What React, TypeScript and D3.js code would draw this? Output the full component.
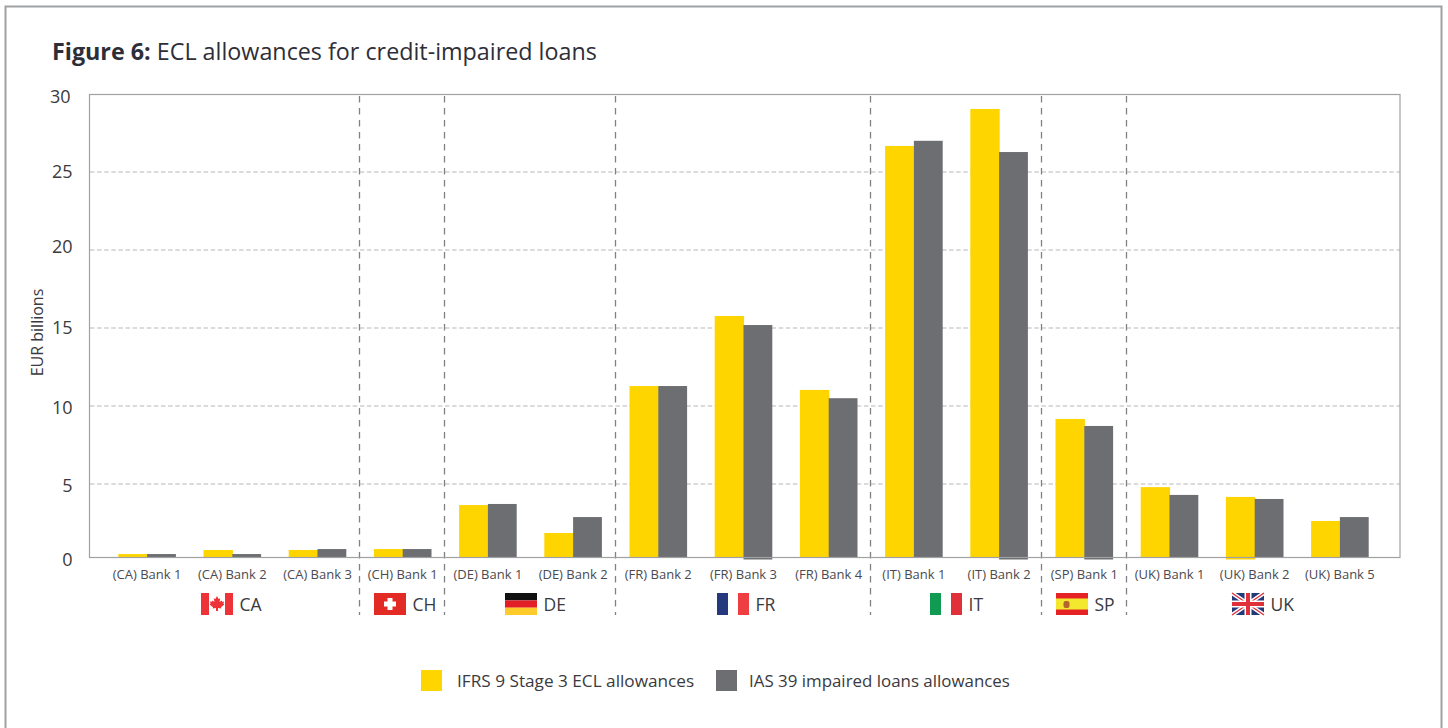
import React from "react";
import * as d3 from "d3";

const banks = ["(CA) Bank 1","(CA) Bank 2","(CA) Bank 3","(CH) Bank 1","(DE) Bank 1","(DE) Bank 2","(FR) Bank 2","(FR) Bank 3","(FR) Bank 4","(IT) Bank 1","(IT) Bank 2","(SP) Bank 1","(UK) Bank 1","(UK) Bank 2","(UK) Bank 5"];
const ifrs9 = [0.51,0.77,0.77,0.83,3.65,1.86,11.28,15.77,11.03,26.67,29.04,9.17,4.8,4.17,2.63];
const ias39 = [0.51,0.51,0.83,0.83,3.72,2.88,11.28,15.19,10.5,27.0,26.28,8.72,4.3,4.04,2.88];
const yTicks = [0,5,10,15,20,25,30];
const countries = ["CA","CH","DE","FR","IT","SP","UK"];
const countrySpans = [3,1,2,3,2,1,3];
const seriesNames = ["IFRS 9 Stage 3 ECL allowances","IAS 39 impaired loans allowances"];
const yellowOverhang = ["(UK) Bank 2"];
const grayOverhang = ["(FR) Bank 3","(IT) Bank 2","(SP) Bank 1"];

const YELLOW = "#ffd500";
const GRAY = "#6d6e71";
const INK = "#3a3a40";
const FONT = "'Open Sans', 'Noto Sans', sans-serif";

const W = 1448, H = 728;
// The plot's floor sits above the scale's zero: the bars are cut off at the axis line.
const y = d3.scaleLinear().domain([0,30]).range([562,94]);
const floorY = 557.5;
const x = d3.scaleBand<string>().domain(banks).range([104.5,1382.5]);
const bw = 28.8;
const tickLabelShift: Record<number,number> = {0:-3,5:1,10:1,15:-1,20:-4,25:-1,30:2};

function Flag({code, fx, fy}:{code:string;fx:number;fy:number}) {
  const w=32,h=22;
  let c: React.ReactNode = null;
  if (code==="CA") c=<>
    <rect width={w} height={h} fill="#fff"/><rect width={8} height={h} fill="#ee3338"/><rect x={24} width={8} height={h} fill="#ee3338"/>
    <path d="M16 3l1.6 3 1.6-.8-.6 3.8 2-1.6.5 1.4 2-.3-.7 2.3 1 .6-3.4 2.8.4 1.4-3.4-.5v2.8h-2v-2.8l-3.4.5.4-1.4-3.4-2.8 1-.6-.7-2.3 2 .3.5-1.4 2 1.6-.6-3.8 1.6.8z" fill="#ee3338"/></>;
  if (code==="CH") c=<>
    <rect width={w} height={h} fill="#e32b26"/><rect x={13.5} y={5} width={5} height={12} fill="#fff"/><rect x={10} y={8.5} width={12} height={5} fill="#fff"/></>;
  if (code==="DE") c=<>
    <rect width={w} height={7.4} fill="#111"/><rect y={7.4} width={w} height={7.3} fill="#e21f26"/><rect y={14.7} width={w} height={7.3} fill="#ffcb2b"/></>;
  if (code==="FR") c=<>
    <rect width={w} height={h} fill="#fff"/><rect width={11} height={h} fill="#25397f"/><rect x={21} width={11} height={h} fill="#ef3e42"/></>;
  if (code==="IT") c=<>
    <rect width={w} height={h} fill="#fff"/><rect width={11} height={h} fill="#119a52"/><rect x={21} width={11} height={h} fill="#e0303a"/></>;
  if (code==="SP") c=<>
    <rect width={w} height={h} fill="#e62324"/><rect y={5.5} width={w} height={11} fill="#f4e82f"/>
    <rect x={7.5} y={8} width={6} height={7} rx={2} fill="#b5652a"/></>;
  if (code==="UK") c=<>
    <rect width={w} height={h} fill="#24397a"/>
    <path d={`M0 0L${w} ${h}M${w} 0L0 ${h}`} stroke="#fff" strokeWidth={4}/>
    <path d={`M0 0L${w} ${h}M${w} 0L0 ${h}`} stroke="#e0303a" strokeWidth={1.4}/>
    <rect x={12.5} width={7} height={h} fill="#fff"/><rect y={7.5} width={w} height={7} fill="#fff"/>
    <rect x={14} width={4} height={h} fill="#e0303a"/><rect y={9} width={w} height={4} fill="#e0303a"/></>;
  return <g transform={`translate(${fx},${fy})`}>{c}</g>;
}

export default function App() {
  const step = x.step();
  const x0 = x.range()[0];
  const seps = Array.from(d3.cumsum(countrySpans)).slice(0,-1).map(n=>Math.round(x0 + step*n)-0.5);
  return (
    <svg width={W} height={H} style={{position:"absolute",left:0,top:0,background:"#fff"}} fontFamily={FONT}>
      <path d={`M5.5 ${H}V6.5H1441.5V${H}`} fill="none" stroke="#a0a1a3" strokeWidth={2}/>
      <text x={52} y={60} fontSize={23.3} fill="#2e2e38"><tspan fontWeight={700}>Figure 6:</tspan> ECL allowances for credit-impaired loans</text>

      {yTicks.filter(t=>t>0&&t<30).map(t=>(
        <line key={t} x1={90} x2={1400} y1={y(t)} y2={y(t)} stroke="#cfcfd1" strokeWidth={1.4} strokeDasharray="4.5 2.6"/>
      ))}
      {seps.map(s=>(
        <line key={s} x1={s} x2={s} y1={96} y2={615} stroke="#808184" strokeWidth={1.3} strokeDasharray="6.5 5.5"/>
      ))}
      {banks.map((b,i)=>{
        const c = x(b)! + step/2;
        return <g key={b}>
          <rect x={c-bw} y={y(ifrs9[i])} width={bw+0.6} height={floorY+(yellowOverhang.includes(b)?2:0)-y(ifrs9[i])} fill={YELLOW}/>
          <rect x={c} y={y(ias39[i])} width={bw} height={floorY+(grayOverhang.includes(b)?2:0)-y(ias39[i])} fill={GRAY}/>
          <text x={c} y={579} textAnchor="middle" fontSize={13} fill="#4a4a50">{b}</text>
        </g>;
      })}
      <rect x={89.5} y={94.5} width={1310.5} height={floorY-94.5} fill="none" stroke="#a0a1a3" strokeWidth={1.2}/>

      {yTicks.map(t=>(
        <text key={t} x={t===30?70.5:72.5} y={y(t)+tickLabelShift[t]+6.5} textAnchor="end" fontSize={18} fill={INK}>{t}</text>
      ))}
      <text transform="translate(43,332.5) rotate(-90)" textAnchor="middle" fontSize={16} fill={INK}>EUR billions</text>

      {countries.map((code,i)=>{
        const flagX = [201,374,505,717,930,1056,1232][i];
        return <g key={code}>
          <Flag code={code} fx={flagX} fy={593}/>
          <text x={flagX+38.5} y={611} fontSize={17.5} fill={INK}>{code}</text>
        </g>;
      })}

      <rect x={421} y={670} width={21} height={21} fill={YELLOW}/>
      <text x={457} y={687} fontSize={17.2} fill={INK}>{seriesNames[0]}</text>
      <rect x={716} y={670} width={21} height={21} fill={GRAY}/>
      <text x={749} y={687} fontSize={16.9} fill={INK}>{seriesNames[1]}</text>
    </svg>
  );
}
